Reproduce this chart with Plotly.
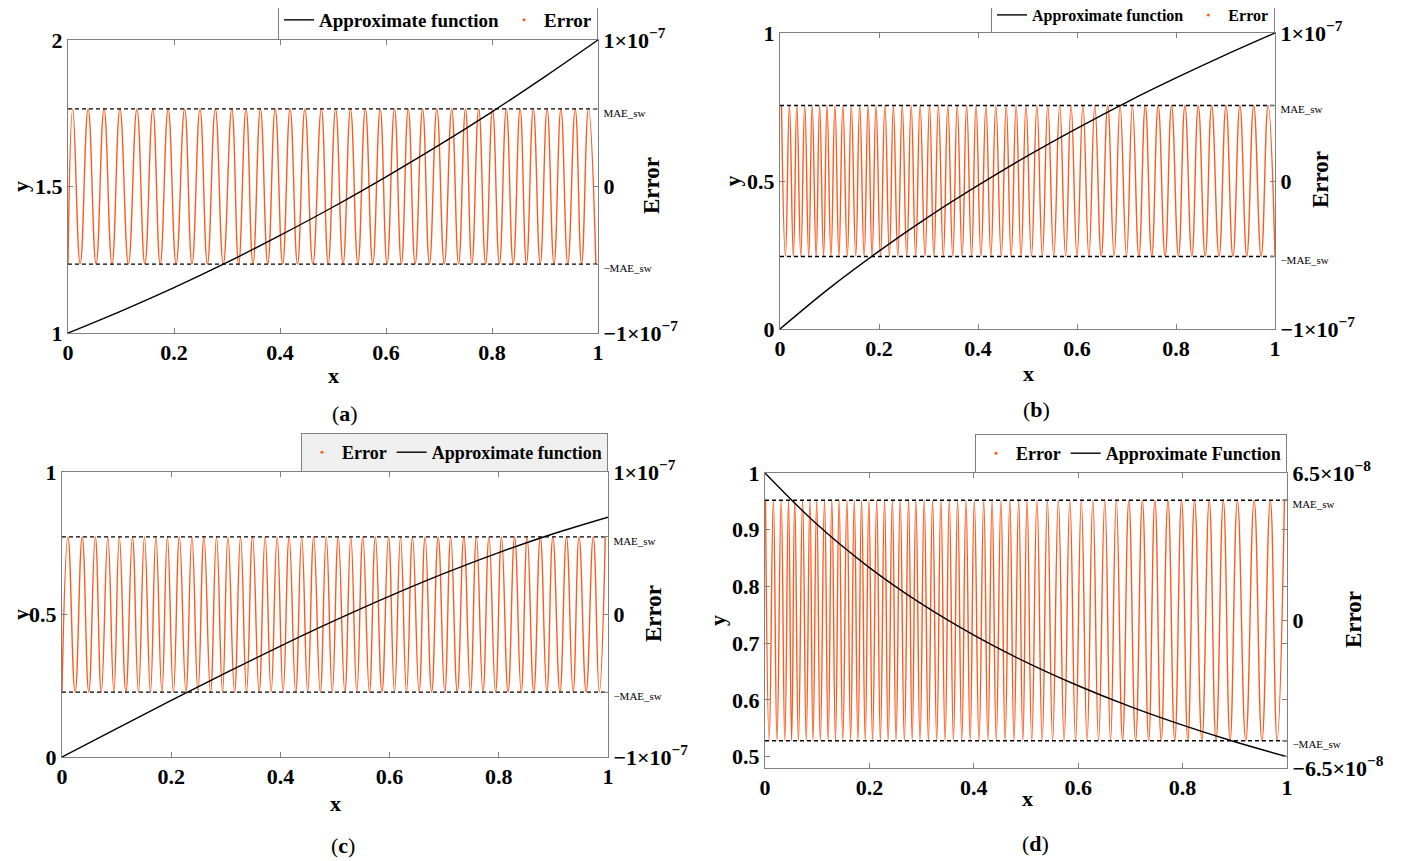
import plotly.graph_objects as go

FONT = "Liberation Serif"
ORANGE = "#ff5a1e"
GRAY = "#808080"

# ---------------- data ----------------
x_curve = [0.0, 0.1, 0.2, 0.3, 0.4, 0.5, 0.6, 0.7, 0.8, 0.9, 1.0]
y_curve_a = [1.0, 1.075, 1.155, 1.241, 1.333, 1.430, 1.533, 1.641, 1.755, 1.875, 2.0]
y_curve_b = [0.0, 0.138, 0.263, 0.379, 0.485, 0.585, 0.678, 0.766, 0.848, 0.926, 1.0]
y_curve_c = [0.0, 0.0998, 0.1987, 0.2955, 0.3894, 0.4794, 0.5646, 0.6442, 0.7174, 0.7833, 0.8415]
y_curve_d = [1.0, 0.9091, 0.8333, 0.7692, 0.7143, 0.6667, 0.625, 0.5882, 0.5556, 0.5263, 0.5]

mae_a = 5.3e-8
mae_b = 5.1e-8
mae_c = 5.45e-8
mae_d = 5.3e-8

err_lim_a = 1e-7
err_lim_b = 1e-7
err_lim_c = 1e-7
err_lim_d = 6.5e-8

# x positions of error maxima (+MAE_sw) and minima (-MAE_sw)
peaks_a = [0.009, 0.038, 0.068, 0.098, 0.130, 0.160, 0.189, 0.220, 0.249, 0.278, 0.309, 0.336,
           0.363, 0.391, 0.419, 0.447, 0.478, 0.505, 0.533, 0.561, 0.589, 0.616, 0.642, 0.669,
           0.696, 0.724, 0.750, 0.775, 0.801, 0.827, 0.853, 0.878, 0.904, 0.930, 0.957, 0.982]
troughs_a = [0.0, 0.023, 0.053, 0.083, 0.114, 0.145, 0.174, 0.204, 0.234, 0.263, 0.293, 0.322,
             0.349, 0.377, 0.405, 0.433, 0.462, 0.491, 0.519, 0.547, 0.575, 0.602, 0.629, 0.655,
             0.682, 0.710, 0.737, 0.762, 0.788, 0.814, 0.840, 0.865, 0.891, 0.917, 0.943, 0.969, 0.996]

peaks_b = [0.003, 0.019, 0.034, 0.050, 0.065, 0.080, 0.095, 0.111, 0.127, 0.144, 0.161, 0.178,
           0.194, 0.212, 0.229, 0.247, 0.265, 0.283, 0.302, 0.320, 0.339, 0.358, 0.377, 0.396,
           0.416, 0.436, 0.457, 0.477, 0.497, 0.519, 0.541, 0.565, 0.588, 0.612, 0.636, 0.662,
           0.687, 0.712, 0.738, 0.764, 0.791, 0.818, 0.845, 0.872, 0.901, 0.929, 0.957, 0.986]
troughs_b = [0.011, 0.027, 0.042, 0.058, 0.073, 0.088, 0.103, 0.119, 0.136, 0.153, 0.170, 0.186,
             0.203, 0.221, 0.238, 0.256, 0.274, 0.293, 0.311, 0.330, 0.349, 0.368, 0.387, 0.406,
             0.426, 0.447, 0.467, 0.487, 0.508, 0.530, 0.553, 0.577, 0.600, 0.624, 0.649, 0.675,
             0.700, 0.725, 0.751, 0.778, 0.805, 0.832, 0.859, 0.887, 0.915, 0.943, 0.972, 1.0]

peaks_c = [0.011, 0.037, 0.061, 0.084, 0.105, 0.129, 0.151, 0.172, 0.193, 0.215, 0.238, 0.260,
           0.283, 0.304, 0.327, 0.349, 0.372, 0.394, 0.416, 0.439, 0.461, 0.484, 0.506, 0.529,
           0.551, 0.574, 0.598, 0.620, 0.642, 0.665, 0.689, 0.712, 0.736, 0.759, 0.782, 0.805,
           0.829, 0.852, 0.876, 0.899, 0.924, 0.947, 0.973, 0.995]
troughs_c = [0.0, 0.024, 0.049, 0.072, 0.095, 0.117, 0.140, 0.162, 0.183, 0.204, 0.227, 0.249,
             0.272, 0.294, 0.316, 0.338, 0.361, 0.383, 0.405, 0.428, 0.450, 0.473, 0.495, 0.518,
             0.540, 0.563, 0.586, 0.609, 0.631, 0.654, 0.677, 0.701, 0.724, 0.748, 0.771, 0.794,
             0.817, 0.841, 0.864, 0.888, 0.912, 0.936, 0.960, 0.984]

peaks_d = [0.001, 0.016, 0.031, 0.045, 0.057, 0.072, 0.086, 0.099, 0.114, 0.128, 0.142, 0.157,
           0.171, 0.185, 0.199, 0.214, 0.229, 0.244, 0.259, 0.275, 0.289, 0.305, 0.321, 0.337,
           0.353, 0.369, 0.385, 0.401, 0.419, 0.435, 0.452, 0.469, 0.486, 0.502, 0.521, 0.541,
           0.562, 0.584, 0.606, 0.628, 0.651, 0.673, 0.697, 0.723, 0.747, 0.772, 0.798, 0.823,
           0.851, 0.878, 0.905, 0.937, 0.968, 0.995]
troughs_d = [0.008, 0.023, 0.038, 0.051, 0.064, 0.079, 0.092, 0.106, 0.121, 0.135, 0.149, 0.164,
             0.178, 0.192, 0.206, 0.221, 0.236, 0.251, 0.267, 0.282, 0.297, 0.313, 0.329, 0.345,
             0.361, 0.377, 0.393, 0.410, 0.427, 0.443, 0.460, 0.477, 0.494, 0.511, 0.531, 0.551,
             0.573, 0.595, 0.617, 0.639, 0.662, 0.685, 0.710, 0.735, 0.759, 0.785, 0.810, 0.837,
             0.864, 0.891, 0.921, 0.952, 0.981]

y_ticks_a = [1, 1.5, 2]
y_ticks_b = [0, 0.5, 1]
y_ticks_c = [0, 0.5, 1]
y_ticks_d = [0.5, 0.6, 0.7, 0.8, 0.9, 1.0]
x_ticks = [0, 0.2, 0.4, 0.6, 0.8, 1]

legend_names_a = ["Approximate function", "Error"]
legend_names_b = ["Approximate function", "Error"]
legend_names_c = ["Error", "Approximate function"]
legend_names_d = ["Error", "Approximate Function"]

exp_labels = ["1×10<sup>−7</sup>", "1×10<sup>−7</sup>", "1×10<sup>−7</sup>", "6.5×10<sup>−8</sup>"]
captions = ["a", "b", "c", "d"]

# ---------------- layout geometry (pixels of the 1402x861 page) ----------------
W, H = 1402, 861
OFF = 8  # page body margin


def px(v):
    return (v - OFF) / W


def py(v):
    return 1 - (v - OFF) / H


panels = [
    dict(x0=68, x1=598, y0=40, y1=333, yr=[1, 2], curve=y_curve_a, mae=mae_a, lim=err_lim_a,
         peaks=peaks_a, troughs=troughs_a, yt=y_ticks_a, names=legend_names_a,
         leg_font=19, leg_bg="white", err_title=(652, 186), x_title=(333, 375), cap=(345, 413)),
    dict(x0=780, x1=1275, y0=33, y1=329, yr=[0, 1], curve=y_curve_b, mae=mae_b, lim=err_lim_b,
         peaks=peaks_b, troughs=troughs_b, yt=y_ticks_b, names=legend_names_b,
         leg_font=16, leg_bg="white", err_title=(1320, 180), x_title=(1028, 373), cap=(1036, 410)),
    dict(x0=62, x1=608, y0=472, y1=757, yr=[0, 1], curve=y_curve_c, mae=mae_c, lim=err_lim_c,
         peaks=peaks_c, troughs=troughs_c, yt=y_ticks_c, names=legend_names_c,
         leg_font=18, leg_bg="#f0f0f0", err_title=(653, 614), x_title=(335, 803), cap=(343, 845)),
    dict(x0=765, x1=1287, y0=473, y1=768, yr=[0.48, 1.0], curve=y_curve_d, mae=mae_d, lim=err_lim_d,
         peaks=peaks_d, troughs=troughs_d, yt=y_ticks_d, names=legend_names_d,
         leg_font=18, leg_bg="white", err_title=(1353, 620), x_title=(1027, 798), cap=(1035, 843)),
]

fig = go.Figure()
layout = dict(width=W, height=H, margin=dict(l=0, r=0, t=0, b=0, autoexpand=False),
              paper_bgcolor="white", plot_bgcolor="white", showlegend=True,
              font=dict(family=FONT, color="black"))
annotations = []

tick_font = dict(family=FONT, size=22, color="black", weight="bold")
title_font = dict(family=FONT, size=22, color="black", weight="bold")

for i, p in enumerate(panels, start=1):
    xa = "x" if i == 1 else f"x{i}"
    ye_id = 2 * i - 1
    yc_id = 2 * i
    ye = "y" if ye_id == 1 else f"y{ye_id}"
    yc = f"y{yc_id}"
    leg = "legend" if i == 1 else f"legend{i}"

    dom_x = [px(p["x0"]), px(p["x1"])]
    dom_y = [py(p["y1"]), py(p["y0"])]

    # error curve: merge extrema lists
    pts = sorted([(v, p["mae"]) for v in p["peaks"]] + [(v, -p["mae"]) for v in p["troughs"]])
    ex = [a for a, _ in pts]
    ey = [b for _, b in pts]
    fig.add_trace(go.Scatter(x=ex, y=ey, mode="lines", xaxis=xa, yaxis=ye,
                             line=dict(color=ORANGE, width=1.4, shape="spline", smoothing=1.3),
                             showlegend=False, hoverinfo="skip"))
    for s in (1, -1):
        fig.add_trace(go.Scatter(x=[0, 1], y=[s * p["mae"]] * 2, mode="lines", xaxis=xa, yaxis=ye,
                                 line=dict(color="black", width=1.3, dash="4px,3px"),
                                 showlegend=False, hoverinfo="skip"))
    # approximate function
    approx_name = [n for n in p["names"] if n.startswith("Approximate")][0]
    rank_approx = p["names"].index(approx_name) + 1
    fig.add_trace(go.Scatter(x=x_curve, y=p["curve"], mode="lines", xaxis=xa, yaxis=yc,
                             line=dict(color="black", width=1.4, shape="spline"),
                             name=approx_name, legend=leg, legendrank=rank_approx))
    # legend marker for Error
    fig.add_trace(go.Scatter(x=[None], y=[None], mode="markers", xaxis=xa, yaxis=ye,
                             marker=dict(color=ORANGE, size=3), name="Error", legend=leg,
                             legendrank=p["names"].index("Error") + 1))

    lim = p["lim"]
    mae = p["mae"]
    small = '<span style="font-size:11px;font-weight:normal">{}</span>'
    layout[f"xaxis{i}" if i > 1 else "xaxis"] = dict(
        domain=dom_x, anchor=ye, range=[0, 1], tickvals=x_ticks, ticks="inside", ticklen=5,
        tickcolor=GRAY, showline=True, linecolor=GRAY, linewidth=1, mirror="ticks",
        showgrid=False, zeroline=False, tickfont=tick_font, automargin=False)
    layout[f"yaxis{ye_id}" if ye_id > 1 else "yaxis"] = dict(
        domain=dom_y, anchor=xa, side="right", range=[-lim, lim],
        tickvals=[-lim, -mae, 0, mae, lim],
        ticktext=["−" + exp_labels[i - 1], small.format("−MAE_sw"), "0",
                  small.format("MAE_sw"), exp_labels[i - 1]],
        ticks="inside", ticklen=5, tickcolor=GRAY, showline=True, linecolor=GRAY,
        showgrid=False, zeroline=False, tickfont=tick_font, automargin=False)
    layout[f"yaxis{yc_id}"] = dict(
        overlaying=ye, anchor=xa, side="left", range=p["yr"], tickvals=p["yt"],
        ticks="inside", ticklen=5, tickcolor=GRAY, showline=True, linecolor=GRAY,
        mirror="ticks", showgrid=False, zeroline=False, tickfont=tick_font, automargin=False,
        title=dict(text="y", font=title_font, standoff=0))
    layout[leg] = dict(x=px(p["x1"]), y=py(p["y0"]), xanchor="right", yanchor="bottom",
                       orientation="h", bgcolor=p["leg_bg"], bordercolor=GRAY, borderwidth=1,
                       font=dict(family=FONT, size=p["leg_font"], weight="bold", color="black"),
                       itemwidth=30, traceorder="normal")
    common = dict(xref="paper", yref="paper", showarrow=False, xanchor="center", yanchor="middle")
    annotations.append(dict(text="<b>Error</b>", x=px(p["err_title"][0]), y=py(p["err_title"][1]),
                            textangle=-90, font=dict(family=FONT, size=23, color="black"), **common))
    annotations.append(dict(text="<b>x</b>", x=px(p["x_title"][0]), y=py(p["x_title"][1]),
                            font=dict(family=FONT, size=22, color="black"), **common))
    annotations.append(dict(text=f"(<b>{captions[i-1]}</b>)", x=px(p["cap"][0]), y=py(p["cap"][1]),
                            font=dict(family=FONT, size=22, color="black"), **common))

layout["annotations"] = annotations
fig.update_layout(**layout)
fig.write_html("out.html")
